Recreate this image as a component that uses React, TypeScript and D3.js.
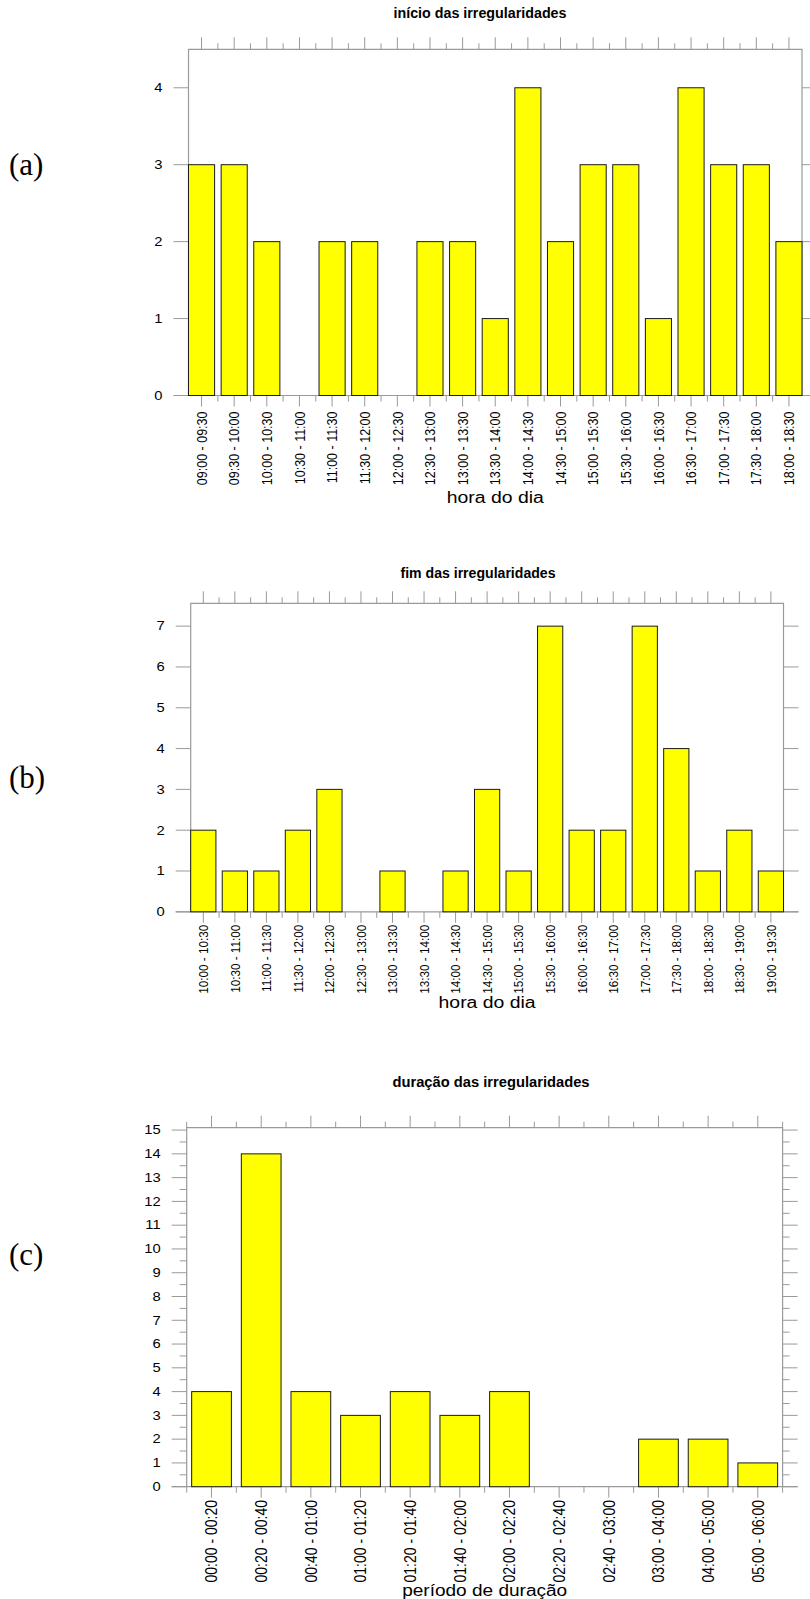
import React from "react";
import * as d3 from "d3";

// ---------- data ----------
const catsA = ["09:00 - 09:30","09:30 - 10:00","10:00 - 10:30","10:30 - 11:00","11:00 - 11:30","11:30 - 12:00","12:00 - 12:30","12:30 - 13:00","13:00 - 13:30","13:30 - 14:00","14:00 - 14:30","14:30 - 15:00","15:00 - 15:30","15:30 - 16:00","16:00 - 16:30","16:30 - 17:00","17:00 - 17:30","17:30 - 18:00","18:00 - 18:30"];
const valsA = [3,3,2,0,2,2,0,2,2,1,4,2,3,3,1,4,3,3,2];
const ticksA = [0,1,2,3,4];

const catsB = ["10:00 - 10:30","10:30 - 11:00","11:00 - 11:30","11:30 - 12:00","12:00 - 12:30","12:30 - 13:00","13:00 - 13:30","13:30 - 14:00","14:00 - 14:30","14:30 - 15:00","15:00 - 15:30","15:30 - 16:00","16:00 - 16:30","16:30 - 17:00","17:00 - 17:30","17:30 - 18:00","18:00 - 18:30","18:30 - 19:00","19:00 - 19:30"];
const valsB = [2,1,1,2,3,0,1,0,1,3,1,7,2,2,7,4,1,2,1];
const ticksB = [0,1,2,3,4,5,6,7];

const catsC = ["00:00 - 00:20","00:20 - 00:40","00:40 - 01:00","01:00 - 01:20","01:20 - 01:40","01:40 - 02:00","02:00 - 02:20","02:20 - 02:40","02:40 - 03:00","03:00 - 04:00","04:00 - 05:00","05:00 - 06:00"];
const valsC = [4,14,4,3,4,3,4,0,0,2,2,1];
const ticksC = [0,1,2,3,4,5,6,7,8,9,10,11,12,13,14,15];

const SANS = "'Liberation Sans', Arial, Helvetica, sans-serif";
const SERIF = "'Liberation Serif', 'Times New Roman', serif";
const GRID = "#9a9a9a";

type Cfg = {
  cats: string[]; vals: number[]; ticks: number[]; minor: boolean;
  yMax: number; l: number; r: number; t: number; b: number; po: number;
  title: string; titleX: number; titleY: number; titleLen: number;
  xLabel: string; xLabelY: number; xLabelLen: number;
  tickFont: number; tickGap: number; panel: string; panelY: number;
};

function Chart({ c }: { c: Cfg }) {
  const x = d3.scaleBand<string>().domain(c.cats).range([c.l, c.r]).paddingInner(0.2).paddingOuter(c.po);
  const y = d3.scaleLinear().domain([0, c.yMax]).range([c.b, c.t]);
  const step = x.step();
  const bw = x.bandwidth();
  const centers = c.cats.map((d) => (x(d) as number) + bw / 2);
  const bounds: number[] = [];
  for (let i = 0; i <= c.cats.length; i++) {
    const v = (x(c.cats[0]) as number) + i * step - (step - bw) / 2;
    if (v >= c.l - 0.5 && v <= c.r + 0.5) bounds.push(v);
  }
  const minorTicks: number[] = [];
  if (c.minor) for (let v = 0.5; v < c.yMax; v += 1) minorTicks.push(v);
  const mid = (c.l + c.r) / 2;
  return (
    <g>
      <text x={9} y={c.panelY} fontFamily={SERIF} fontSize={31} fill="#000">{c.panel}</text>
      <text x={c.titleX} y={c.titleY} fontFamily={SANS} fontWeight="bold" fontSize={14.5}
        textAnchor="middle" textLength={c.titleLen} lengthAdjust="spacingAndGlyphs">{c.title}</text>
      {/* frame */}
      <path d={`M${c.l},${c.b}V${c.t}H${c.r}V${c.b}`} fill="none" stroke={GRID} strokeWidth={1.2} />
      {/* top ticks */}
      {centers.map((cx, i) => <line key={"tm" + i} x1={cx} x2={cx} y1={c.t} y2={c.t - 12} stroke={GRID} />)}
      {bounds.map((bx, i) => <line key={"tb" + i} x1={bx} x2={bx} y1={c.t} y2={c.t - 6} stroke={GRID} />)}
      {/* bottom ticks */}
      {centers.map((cx, i) => <line key={"bm" + i} x1={cx} x2={cx} y1={c.b} y2={c.b + 11} stroke={GRID} />)}
      {bounds.map((bx, i) => <line key={"bb" + i} x1={bx} x2={bx} y1={c.b} y2={c.b + 6} stroke={GRID} />)}
      {/* y ticks */}
      {c.ticks.map((v) => (
        <g key={"y" + v}>
          <line x1={c.l - 15} x2={c.l} y1={y(v)} y2={y(v)} stroke={GRID} />
          <line x1={c.r} x2={c.r + 15} y1={y(v)} y2={y(v)} stroke={GRID} />
          <text transform={`translate(${c.l - 26},${y(v)}) scale(1.2,1)`} dy="0.35em" textAnchor="end"
            fontFamily={SANS} fontSize={12.3}>{v}</text>
        </g>
      ))}
      {minorTicks.map((v) => (
        <g key={"ym" + v}>
          <line x1={c.l - 7} x2={c.l} y1={y(v)} y2={y(v)} stroke={GRID} />
          <line x1={c.r} x2={c.r + 7} y1={y(v)} y2={y(v)} stroke={GRID} />
        </g>
      ))}
      {/* baseline */}
      <line x1={c.l - 15} x2={c.r + 15} y1={c.b} y2={c.b} stroke={GRID} strokeWidth={1.2} />
      {/* bars */}
      {c.cats.map((d, i) => c.vals[i] > 0 ? (
        <rect key={"r" + i} x={x(d) as number} y={y(c.vals[i])} width={bw} height={y(0) - y(c.vals[i])}
          fill="#ffff00" stroke="#1a1a1a" strokeWidth={1} />
      ) : null)}
      {/* x tick labels */}
      {c.cats.map((d, i) => (
        <text key={"xl" + i} transform={`translate(${centers[i]},${c.b + c.tickGap}) scale(1.15,1) rotate(-90)`}
          textAnchor="end" dy="0.36em" fontFamily={SANS} fontSize={c.tickFont}>{d}</text>
      ))}
      <text x={mid} y={c.xLabelY} textAnchor="middle" fontFamily={SANS} fontSize={16}
        textLength={c.xLabelLen} lengthAdjust="spacingAndGlyphs">{c.xLabel}</text>
    </g>
  );
}

const cfgA: Cfg = {
  cats: catsA, vals: valsA, ticks: ticksA, minor: false, yMax: 4.5,
  l: 188.5, r: 802, t: 49.3, b: 395.5, po: 0,
  title: "início das irregularidades", titleX: 480, titleY: 18, titleLen: 173,
  xLabel: "hora do dia", xLabelY: 502.7, xLabelLen: 97,
  tickFont: 12.5, tickGap: 16, panel: "(a)", panelY: 175,
};
const cfgB: Cfg = {
  cats: catsB, vals: valsB, ticks: ticksB, minor: false, yMax: 7.56,
  l: 190.7, r: 783.5, t: 603.3, b: 911.8, po: 0,
  title: "fim das irregularidades", titleX: 478, titleY: 578, titleLen: 155,
  xLabel: "hora do dia", xLabelY: 1007.7, xLabelLen: 97,
  tickFont: 11.7, tickGap: 13, panel: "(b)", panelY: 788,
};
const cfgC: Cfg = {
  cats: catsC, vals: valsC, ticks: ticksC, minor: true, yMax: 15.1,
  l: 186.7, r: 782.6, t: 1127.7, b: 1486.7, po: 0.1,
  title: "duração das irregularidades", titleX: 491, titleY: 1087, titleLen: 197,
  xLabel: "período de duração", xLabelY: 1596, xLabelLen: 165,
  tickFont: 14, tickGap: 13.3, panel: "(c)", panelY: 1265,
};

export default function App() {
  return (
    <svg width={810} height={1599} viewBox="0 0 810 1599"
      style={{ position: "absolute", left: 0, top: 0, background: "#fff" }}>
      <rect x={0} y={0} width={810} height={1599} fill="#fff" />
      <Chart c={cfgA} />
      <Chart c={cfgB} />
      <Chart c={cfgC} />
    </svg>
  );
}
